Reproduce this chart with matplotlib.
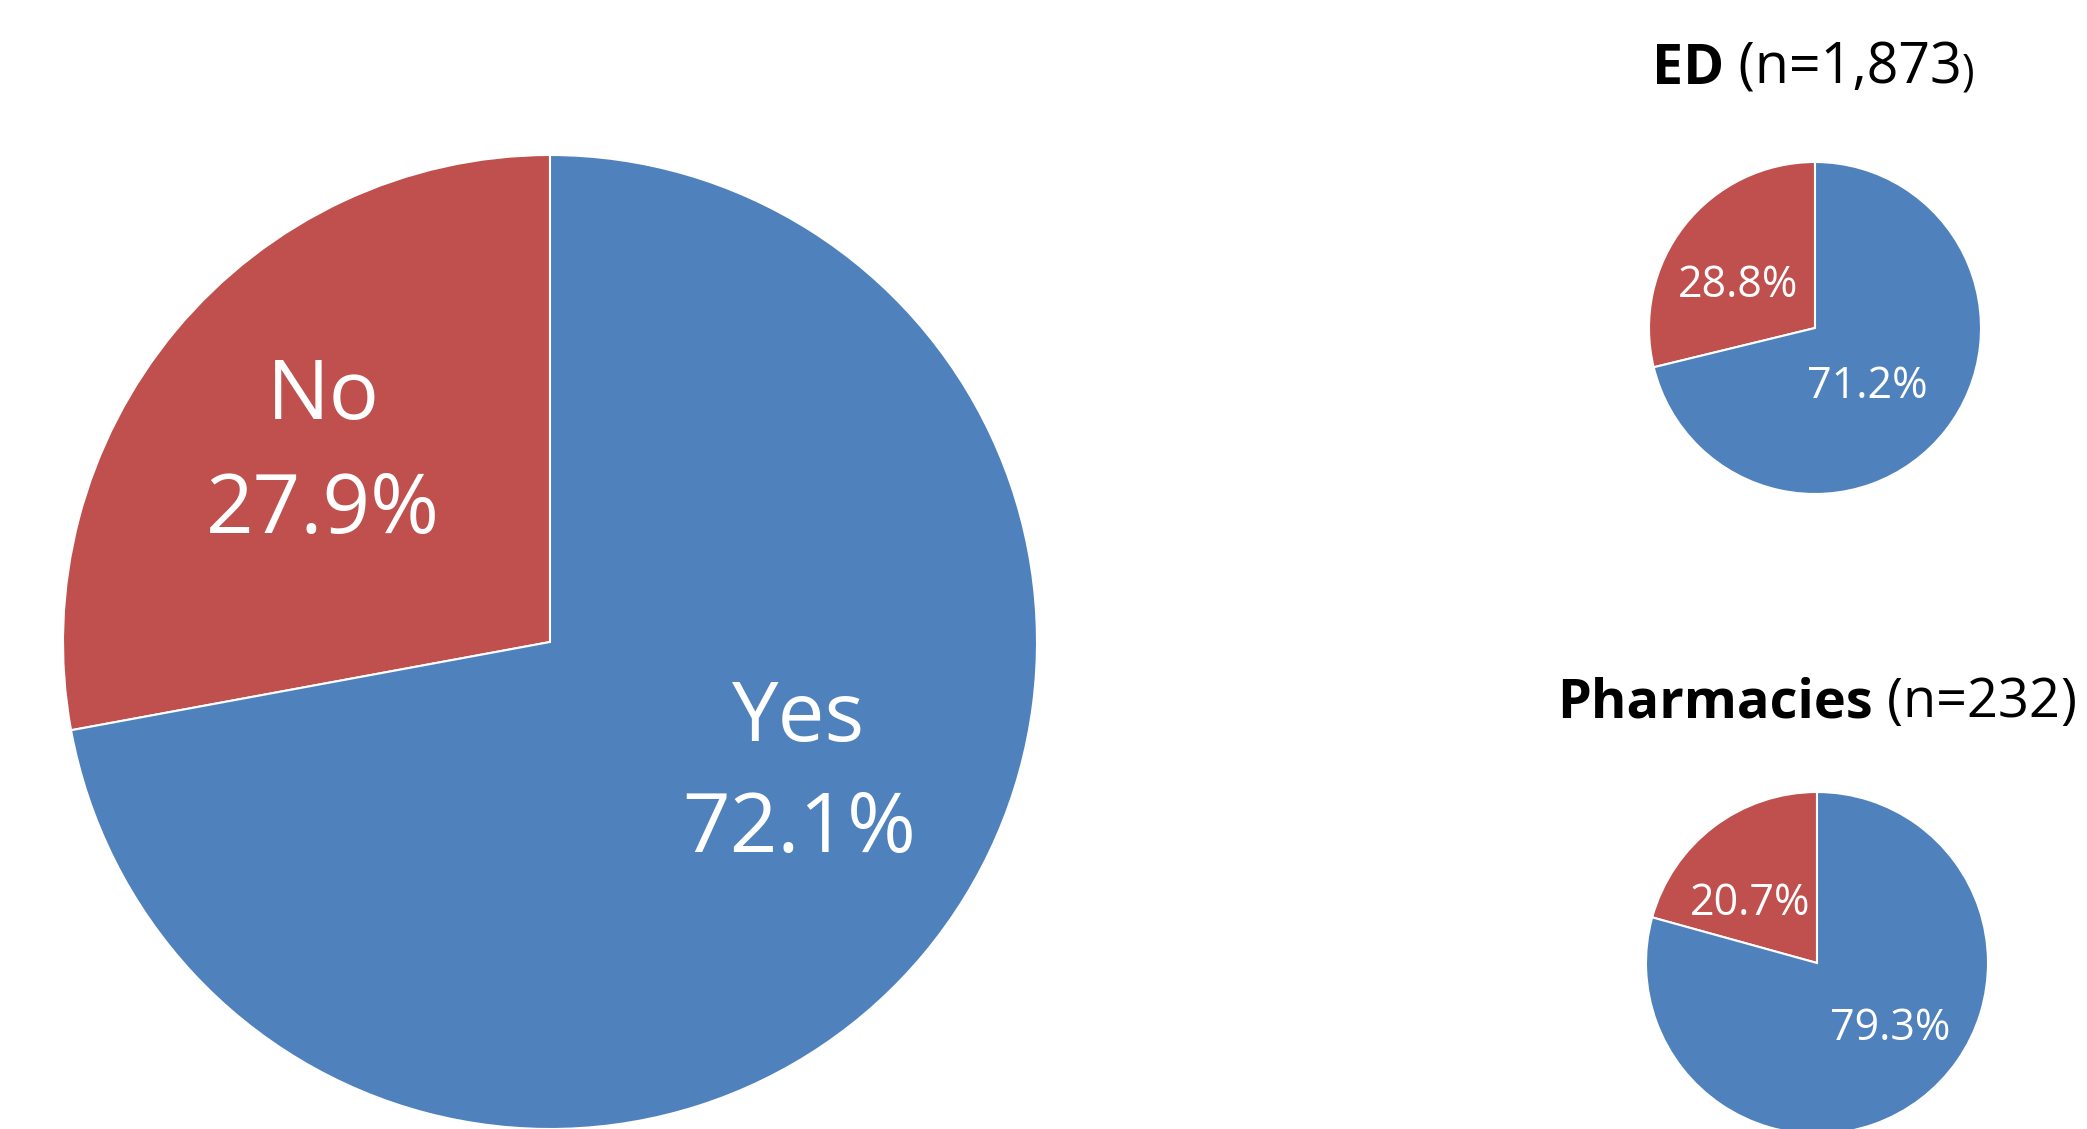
import matplotlib
matplotlib.use("Agg")
import matplotlib.pyplot as plt

plt.rcParams['font.family'] = ['Open Sans', 'DejaVu Sans']

# ---- data ----
categories = ["No", "Yes"]
overall_values = [27.9, 72.1]
ed_values = [28.8, 71.2]
pharm_values = [20.7, 79.3]
ed_title = ("ED", " (n=1,873", ")")
pharm_title = ("Pharmacies", " (n=232", ")")

colors = ["#C0504D", "#4F81BD"]

W, H = 2087, 1129
fig = plt.figure(figsize=(W / 100, H / 100), dpi=100)
fig.patch.set_facecolor("white")


def pie_axes(cx, cy, r):
    # cx, cy, r in pixels (y from top)
    ax = fig.add_axes([(cx - r) / W, (H - cy - r) / H, 2 * r / W, 2 * r / H])
    ax.axis("off")
    return ax


def draw_pie(ax, values):
    wedges, _ = ax.pie(values, colors=colors, startangle=90, counterclock=True,
                       radius=1, wedgeprops=dict(edgecolor="white", linewidth=1.5))
    for w in wedges:
        w.set_clip_on(False)
    ax.set_xlim(-1, 1)
    ax.set_ylim(-1, 1)
    ax.set_aspect("equal")
    return wedges


BIG = 60
SMALL = 31

# main pie
ax_main = pie_axes(550, 642, 487)
draw_pie(ax_main, overall_values)
r = 487
ax_main.text(-227 / r, 244 / r, categories[0], ha="center", va="center", color="white", fontsize=BIG)
ax_main.text(-227 / r, 130 / r, f"{overall_values[0]:.1f}%", ha="center", va="center", color="white", fontsize=BIG)
ax_main.text(249 / r, -78 / r, categories[1], ha="center", va="center", color="white", fontsize=BIG)
ax_main.text(249 / r, -189 / r, f"{overall_values[1]:.1f}%", ha="center", va="center", color="white", fontsize=BIG)

# ED pie
ax_ed = pie_axes(1815, 328, 166)
draw_pie(ax_ed, ed_values)
r = 166
ax_ed.text(-77 / r, 42 / r, f"{ed_values[0]:.1f}%", ha="center", va="center", color="white", fontsize=SMALL)
ax_ed.text(52 / r, -59 / r, f"{ed_values[1]:.1f}%", ha="center", va="center", color="white", fontsize=SMALL)

# Pharmacies pie
ax_ph = pie_axes(1817, 963, 171)
draw_pie(ax_ph, pharm_values)
r = 171
ax_ph.text(-67 / r, 59 / r, f"{pharm_values[0]:.1f}%", ha="center", va="center", color="white", fontsize=SMALL)
ax_ph.text(73 / r, -66 / r, f"{pharm_values[1]:.1f}%", ha="center", va="center", color="white", fontsize=SMALL)


def chained_title(parts, cx, cy, sizes, weights):
    renderer = fig.canvas.get_renderer()
    texts = []
    for p, s, wgt in zip(parts, sizes, weights):
        t = fig.text(0, 1 - cy / H, p, fontsize=s, fontweight=wgt, va="baseline", ha="left", color="black")
        texts.append(t)
    widths = [t.get_window_extent(renderer).width for t in texts]
    total = sum(widths)
    x = cx - total / 2
    for t, w in zip(texts, widths):
        t.set_x(x / W)
        x += w


chained_title(ed_title, 1813, 84, [40, 40, 31], ["bold", "normal", "normal"])
chained_title(pharm_title, 1817, 717, [39, 39, 39], ["bold", "normal", "normal"])

fig.savefig("out.png", dpi=100, facecolor="white")
